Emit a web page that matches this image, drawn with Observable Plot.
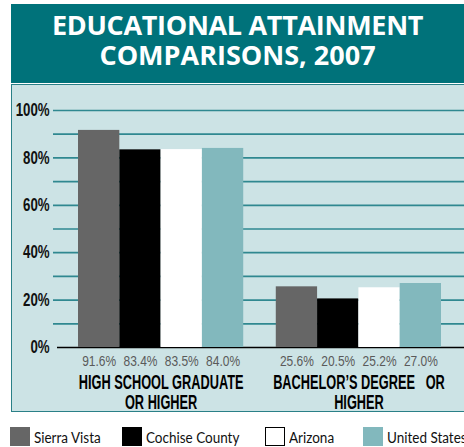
<!DOCTYPE html>
<html>
<head>
<meta charset="utf-8">
<script src="https://cdn.jsdelivr.net/npm/d3@7"></script>
<script src="https://cdn.jsdelivr.net/npm/@observablehq/plot@0.6"></script>
<style>
  html, body { margin: 0; padding: 0; background: #fff; }
  #wrap { position: relative; width: 464px; height: 447px; overflow: hidden; }
  #title { position: absolute; left: 11px; top: 4px; width: 453px; height: 78.5px; background: #00727a;
    color: #fff; font-family: "Open Sans", sans-serif; font-weight: 700; font-size: 27px; line-height: 30px;
    text-align: center; box-sizing: border-box; padding-top: 5.5px; }
  #title div { height: 30px; }
  #title div:first-child { letter-spacing: -0.3px; }
  #panel { position: absolute; left: 11px; top: 84px; width: 470px; height: 328px; background: #cce3e5;
    border: 1.5px solid #2a8087; box-sizing: border-box; }
  .layer { position: absolute; left: 0; top: 84px; }
  .layer svg { background: transparent !important; overflow: visible; }
  #bg text { font-family: "Liberation Sans", Arial, sans-serif; font-weight: 700; font-size: 17.5px; fill: #111; }
  #fg text.val { font-family: "Liberation Sans", Arial, sans-serif; font-size: 14.5px; fill: #5a5a5a; }
  #fg text.cat { font-family: "Liberation Sans", Arial, sans-serif; font-weight: 700; font-size: 20px; fill: #000; white-space: pre; }
  #legend { position: absolute; left: 0; top: 427px; width: 600px; height: 20px;
    font-family: Lato, sans-serif; font-size: 15.5px; color: #111; }
  .item { position: absolute; top: 0; height: 19px; display: flex; align-items: center; white-space: nowrap; }
  .item span { display: inline-block; transform: scaleX(0.87); transform-origin: 0 50%; }
  .sw { width: 20px; height: 19px; box-sizing: border-box; margin-right: 4px; }
</style>
</head>
<body>
<div id="wrap">
  <div id="title"><div>EDUCATIONAL ATTAINMENT</div><div>COMPARISONS, 2007</div></div>
  <div id="panel"></div>
  <div id="bg" class="layer"></div>
  <div id="fg" class="layer"></div>
  <div id="legend"></div>
</div>
<script>
// ---- data ----
const categories = ["HIGH SCHOOL GRADUATE\nOR HIGHER", "BACHELOR\u2019S DEGREE   OR\nHIGHER"];
const series = ["Sierra Vista", "Cochise County", "Arizona", "United States"];
const colors = ["#666666", "#000000", "#ffffff", "#82b8bd"];
const highSchool = [91.6, 83.4, 83.5, 84.0];
const bachelors = [25.6, 20.5, 25.2, 27.0];
const gridTicks = [10, 20, 30, 40, 50, 60, 70, 80, 90, 100];
const labelTicks = [0, 20, 40, 60, 80, 100];
const legendX = [10, 122, 265, 363];

const data = [];
[highSchool, bachelors].forEach((vals, ci) => {
  vals.forEach((v, si) => data.push({cat: categories[ci], series: series[si], value: v}));
});

const W = 464, H = 330, MT = 26, MB = 67;

// background layer: grid + y axis
const bg = Plot.plot({
  width: W, height: H, marginLeft: 53, marginRight: 0, marginTop: MT, marginBottom: MB,
  style: {background: "transparent"},
  x: {axis: null},
  y: {domain: [0, 100], axis: null},
  marks: [
    Plot.ruleY(gridTicks, {stroke: "#2f8890", strokeWidth: 1.7}),
    Plot.ruleY([0], {stroke: "#000", strokeWidth: 1.6, insetLeft: 4}),
    Plot.axisY({ticks: labelTicks, tickSize: 0, tickPadding: 4, tickFormat: d => d + "%"})
  ]
});
document.getElementById("bg").appendChild(bg);

// foreground: grouped bars
const fg = Plot.plot({
  width: W, height: H, marginLeft: 78, marginRight: 23, marginTop: MT, marginBottom: MB,
  style: {background: "transparent"},
  fx: {domain: categories, paddingInner: 0.1646, paddingOuter: 0, round: false, axis: null, label: null},
  x: {domain: series, padding: 0, round: false, axis: null},
  y: {domain: [0, 100], axis: null},
  color: {domain: series, range: colors},
  marks: [
    Plot.barY(data, {fx: "cat", x: "series", y: "value", fill: "series", inset: 0}),
    Plot.text(data, {fx: "cat", x: "series", text: d => d.value.toFixed(1) + "%",
      frameAnchor: "bottom", lineAnchor: "bottom", dy: 18.5}),
    Plot.text(categories, {fx: d => d, text: d => d, frameAnchor: "bottom", lineAnchor: "bottom",
      dy: 61, lineHeight: 1.0})
  ]
});
document.getElementById("fg").appendChild(fg);
fg.querySelectorAll("g[aria-label='text']").forEach((g, i) => {
  g.querySelectorAll("text").forEach(t => t.classList.add(i === 0 ? "val" : "cat"));
});

// horizontally condense text around its anchor (the original uses a condensed face)
function condense(texts, s) {
  texts.forEach(t => {
    const parent = t.parentNode;
    const r = t.getBoundingClientRect();
    const anchor = getComputedStyle(t).textAnchor;
    const cx = anchor === "end" ? r.right : anchor === "middle" ? (r.left + r.right) / 2 : r.left;
    const p = new DOMPoint(cx, r.top).matrixTransform(parent.getScreenCTM().inverse());
    const ax = p.x;
    const g = document.createElementNS("http://www.w3.org/2000/svg", "g");
    g.setAttribute("transform", `translate(${ax},0) scale(${s},1) translate(${-ax},0)`);
    parent.insertBefore(g, t);
    g.appendChild(t);
  });
}
function firstLineWidth(t) {
  const ts = t.querySelector("tspan");
  return ts ? ts.getComputedTextLength() : t.getComputedTextLength();
}
const yTexts = Array.from(bg.querySelectorAll("text"));
const y100 = yTexts.find(t => t.textContent === "100%");
condense(yTexts, 34 / y100.getComputedTextLength());
const valTexts = Array.from(fg.querySelectorAll("text.val"));
condense(valTexts, 34 / valTexts[0].getComputedTextLength());
const catTexts = Array.from(fg.querySelectorAll("text.cat"));
condense(catTexts, 165 / firstLineWidth(catTexts[0]));

// legend
const leg = document.getElementById("legend");
series.forEach((s, i) => {
  const it = document.createElement("div");
  it.className = "item";
  it.style.left = legendX[i] + "px";
  const sw = document.createElement("div");
  sw.className = "sw";
  sw.style.background = colors[i];
  if (colors[i] === "#ffffff") sw.style.border = "1.3px solid #000";
  it.appendChild(sw);
  const lb = document.createElement("span");
  lb.textContent = s;
  it.appendChild(lb);
  leg.appendChild(it);
});
</script>
</body>
</html>
